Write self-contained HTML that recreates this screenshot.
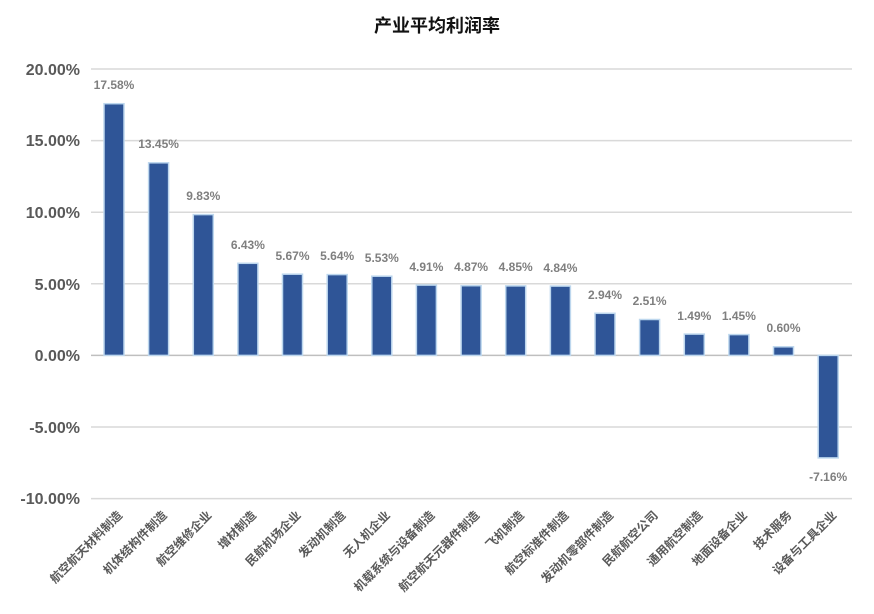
<!DOCTYPE html>
<html><head><meta charset="utf-8"><style>html,body{margin:0;padding:0;background:#fff;overflow:hidden;width:874px;height:614px}svg{display:block}</style></head><body>
<svg width="874" height="614" xmlns="http://www.w3.org/2000/svg" font-family="Liberation Sans, Noto Sans CJK SC, sans-serif">
<text x="437" y="32" text-anchor="middle" font-size="18" font-weight="bold" fill="#111">产业平均利润率</text>
<g stroke="#d9d9d9" stroke-width="1.5">
<line x1="91" x2="852" y1="69" y2="69"/><line x1="91" x2="852" y1="140.6" y2="140.6"/><line x1="91" x2="852" y1="212.2" y2="212.2"/><line x1="91" x2="852" y1="283.8" y2="283.8"/><line x1="91" x2="852" y1="427" y2="427"/><line x1="91" x2="852" y1="498.6" y2="498.6"/>
</g>
<line x1="91" x2="852" y1="355.4" y2="355.4" stroke="#bfbfbf" stroke-width="1.5"/>
<g font-size="16" font-weight="bold" fill="#595959" text-anchor="end">
<text x="80" y="75">20.00%</text><text x="80" y="146">15.00%</text><text x="80" y="218">10.00%</text><text x="80" y="290">5.00%</text><text x="80" y="361">0.00%</text><text x="80" y="433">-5.00%</text><text x="80" y="504">-10.00%</text>
</g>
<g fill="#2f5597" stroke="#bdd7ee" stroke-width="1.5">
<rect x="104" y="103.7" width="20" height="251.7"/>
<rect x="148.6" y="162.8" width="20" height="192.6"/>
<rect x="193.3" y="214.6" width="20" height="140.8"/>
<rect x="237.9" y="263.3" width="20" height="92.1"/>
<rect x="282.5" y="274.2" width="20" height="81.2"/>
<rect x="327.2" y="274.6" width="20" height="80.8"/>
<rect x="371.8" y="276.2" width="20" height="79.2"/>
<rect x="416.4" y="285.1" width="20" height="70.3"/>
<rect x="461.1" y="285.7" width="20" height="69.7"/>
<rect x="505.7" y="285.9" width="20" height="69.5"/>
<rect x="550.4" y="286.1" width="20" height="69.3"/>
<rect x="595" y="313.3" width="20" height="42.1"/>
<rect x="639.6" y="319.5" width="20" height="35.9"/>
<rect x="684.3" y="334.1" width="20" height="21.3"/>
<rect x="728.9" y="334.6" width="20" height="20.8"/>
<rect x="773.5" y="346.8" width="20" height="8.6"/>
<rect x="818.2" y="355.4" width="20" height="102.5"/>
</g>
<g font-size="12" font-weight="bold" fill="#7f7f7f" text-anchor="middle">
<text x="114" y="89">17.58%</text>
<text x="158.6" y="148">13.45%</text>
<text x="203.3" y="200">9.83%</text>
<text x="247.9" y="249">6.43%</text>
<text x="292.5" y="260">5.67%</text>
<text x="337.2" y="260">5.64%</text>
<text x="381.8" y="262">5.53%</text>
<text x="426.4" y="271">4.91%</text>
<text x="471.1" y="271">4.87%</text>
<text x="515.7" y="271">4.85%</text>
<text x="560.4" y="272">4.84%</text>
<text x="605" y="299">2.94%</text>
<text x="649.6" y="305">2.51%</text>
<text x="694.3" y="320">1.49%</text>
<text x="738.9" y="320">1.45%</text>
<text x="783.5" y="332">0.60%</text>
<text x="828.2" y="481">-7.16%</text>
</g>
<g font-size="12" font-weight="bold" fill="#595959" text-anchor="end">
<text transform="translate(123,516) rotate(-45)">航空航天材料制造</text>
<text transform="translate(167.6,516) rotate(-45)">机体结构件制造</text>
<text transform="translate(212.3,516) rotate(-45)">航空维修企业</text>
<text transform="translate(256.9,516) rotate(-45)">增材制造</text>
<text transform="translate(301.5,516) rotate(-45)">民航机场企业</text>
<text transform="translate(346.2,516) rotate(-45)">发动机制造</text>
<text transform="translate(390.8,516) rotate(-45)">无人机企业</text>
<text transform="translate(435.4,516) rotate(-45)">机载系统与设备制造</text>
<text transform="translate(480.1,516) rotate(-45)">航空航天元器件制造</text>
<text transform="translate(524.7,516) rotate(-45)">飞机制造</text>
<text transform="translate(569.4,516) rotate(-45)">航空标准件制造</text>
<text transform="translate(614,516) rotate(-45)">发动机零部件制造</text>
<text transform="translate(658.6,516) rotate(-45)">民航航空公司</text>
<text transform="translate(703.3,516) rotate(-45)">通用航空制造</text>
<text transform="translate(747.9,516) rotate(-45)">地面设备企业</text>
<text transform="translate(792.5,516) rotate(-45)">技术服务</text>
<text transform="translate(837.2,516) rotate(-45)">设备与工具企业</text>
</g>
</svg>
</body></html>
